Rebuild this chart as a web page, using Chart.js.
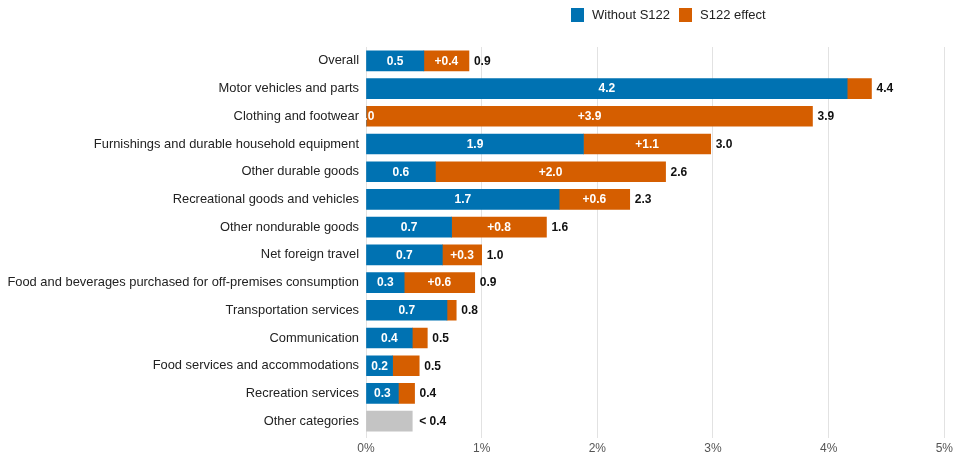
<!DOCTYPE html>
<html>
<head>
<meta charset="utf-8">
<script src="https://cdn.jsdelivr.net/npm/chart.js@4"></script>
<style>
  html, body { margin: 0; padding: 0; background: #fff; }
  #wrap { position: relative; width: 956px; height: 455px; }
  #legend { position: absolute; top: 7px; left: 571px; display: flex; align-items: center;
            font: 13px "Liberation Sans", Arial, sans-serif; color: #222; }
  #legend .item { display: flex; align-items: center; margin-right: 9px; }
  #legend .box { width: 13px; height: 14px; margin-right: 8px; }
</style>
</head>
<body>
<div id="wrap">
  <canvas id="c" width="956" height="455"></canvas>
  <div id="legend"></div>
</div>
<script>
// Categories (top to bottom)
const categories = [
  'Overall',
  'Motor vehicles and parts',
  'Clothing and footwear',
  'Furnishings and durable household equipment',
  'Other durable goods',
  'Recreational goods and vehicles',
  'Other nondurable goods',
  'Net foreign travel',
  'Food and beverages purchased for off-premises consumption',
  'Transportation services',
  'Communication',
  'Food services and accommodations',
  'Recreation services',
  'Other categories'
];

// Price effect, percent
const withoutS122 = [0.50, 4.16, 0.00, 1.88, 0.60, 1.67, 0.74, 0.66, 0.33, 0.70, 0.40, 0.23, 0.28, null];
const s122Effect  = [0.39, 0.21, 3.86, 1.10, 1.99, 0.61, 0.82, 0.34, 0.61, 0.08, 0.13, 0.23, 0.14, null];
const otherCategories = [null, null, null, null, null, null, null, null, null, null, null, null, null, 0.40];
const otherLabel = '< 0.4';

const xTicks = [0, 1, 2, 3, 4, 5];

const BLUE = '#0072B2';
const ORANGE = '#D55E00';
const GREY = '#C4C4C4';
const FONT = '"Liberation Sans", Arial, sans-serif';

// Legend (two series only)
const legendItems = [['Without S122', BLUE], ['S122 effect', ORANGE]];
const legendEl = document.getElementById('legend');
legendItems.forEach(([name, color]) => {
  const it = document.createElement('div');
  it.className = 'item';
  it.innerHTML = '<span class="box" style="background:' + color + '"></span><span>' + name + '</span>';
  legendEl.appendChild(it);
});

// Value labels inside and after the bars
const barLabels = {
  id: 'barLabels',
  afterDatasetsDraw(chart) {
    const ctx = chart.ctx;
    const area = chart.chartArea;
    const metaBlue = chart.getDatasetMeta(0);
    const metaOrange = chart.getDatasetMeta(1);
    const metaGrey = chart.getDatasetMeta(2);
    ctx.save();
    ctx.textBaseline = 'middle';
    ctx.font = 'bold 12px ' + FONT;

    // inside labels, clipped to the plot area
    ctx.save();
    ctx.beginPath();
    ctx.rect(area.left, area.top, area.right - area.left, area.bottom - area.top);
    ctx.clip();
    ctx.fillStyle = '#ffffff';
    ctx.textAlign = 'center';
    metaBlue.data.forEach((el, i) => {
      const v = withoutS122[i];
      if (v === null) return;
      const p = el.getProps(['x', 'y', 'base'], true);
      ctx.fillText(v.toFixed(1), (p.x + p.base) / 2, p.y + 0.5);
    });
    metaOrange.data.forEach((el, i) => {
      const v = s122Effect[i];
      if (v === null) return;
      const p = el.getProps(['x', 'y', 'base'], true);
      if (Math.abs(p.x - p.base) < 34) return;
      ctx.fillText('+' + v.toFixed(1), (p.x + p.base) / 2, p.y + 0.5);
    });
    ctx.restore();

    // totals
    ctx.fillStyle = '#111111';
    ctx.textAlign = 'left';
    categories.forEach((c, i) => {
      if (otherCategories[i] !== null) {
        const p = metaGrey.data[i].getProps(['x', 'y'], true);
        ctx.fillText(otherLabel, p.x + 7, p.y + 0.5);
      } else {
        const p = metaOrange.data[i].getProps(['x', 'y'], true);
        const total = withoutS122[i] + s122Effect[i];
        ctx.fillText(total.toFixed(1), p.x + 5, p.y + 0.5);
      }
    });
    ctx.restore();
  }
};

new Chart(document.getElementById('c'), {
  type: 'bar',
  data: {
    labels: categories,
    datasets: [
      { label: 'Without S122', data: withoutS122, backgroundColor: BLUE },
      { label: 'S122 effect', data: s122Effect, backgroundColor: ORANGE },
      { label: 'Other categories', data: otherCategories, backgroundColor: GREY }
    ]
  },
  options: {
    indexAxis: 'y',
    responsive: false,
    animation: false,
    events: [],
    layout: { padding: { top: 47, left: 0, right: 11, bottom: 0 } },
    datasets: { bar: { barThickness: 20, borderWidth: 0 } },
    plugins: { legend: { display: false }, tooltip: { enabled: false } },
    scales: {
      x: {
        stacked: true,
        min: 0,
        max: 5,
        afterBuildTicks(scale) { scale.ticks = xTicks.map(v => ({ value: v })); },
        grid: { color: '#e2e2e2', lineWidth: 1, drawTicks: true, tickLength: 3 },
        border: { display: false },
        ticks: {
          color: '#555',
          font: { family: FONT, size: 12 },
          padding: 3,
          callback: v => v + '%'
        },
        afterFit(scale) { scale.height = 20; }
      },
      y: {
        stacked: true,
        grid: { display: false, drawTicks: false },
        border: { display: false },
        ticks: {
          color: '#222',
          font: { family: FONT, size: 12.9 },
          padding: 7,
          autoSkip: false
        },
        afterFit(scale) { scale.width = 366; }
      }
    }
  },
  plugins: [barLabels]
});
</script>
</body>
</html>
